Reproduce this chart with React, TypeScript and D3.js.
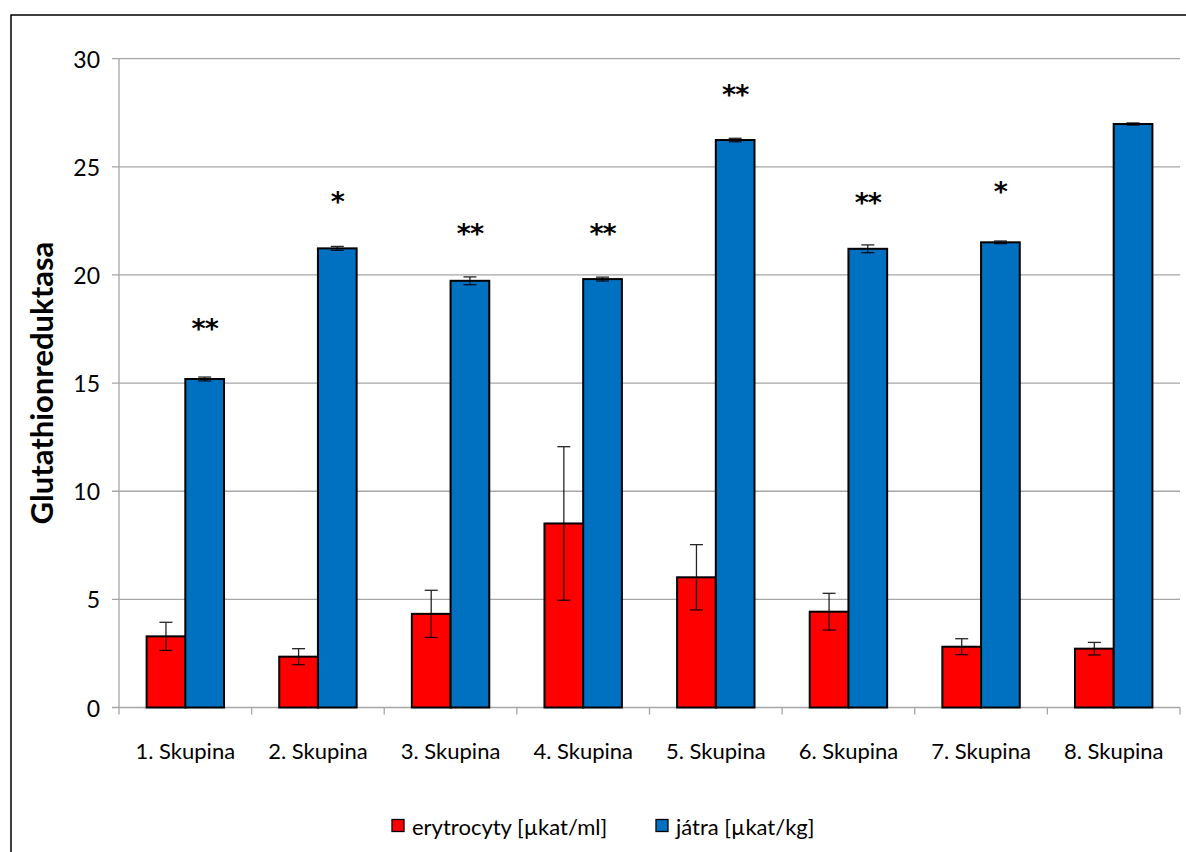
import React from "react";
import * as d3 from "d3";

// Glutathione reductase activity per group
const groups = [
  "1. Skupina",
  "2. Skupina",
  "3. Skupina",
  "4. Skupina",
  "5. Skupina",
  "6. Skupina",
  "7. Skupina",
  "8. Skupina",
];
const erythrocyteValues = [3.29, 2.35, 4.33, 8.51, 6.02, 4.43, 2.81, 2.72];
const erythrocyteErrors = [0.65, 0.37, 1.09, 3.55, 1.51, 0.85, 0.37, 0.29];
const liverValues = [15.19, 21.23, 19.73, 19.81, 26.24, 21.21, 21.51, 26.98];
const liverErrors = [0.09, 0.09, 0.18, 0.09, 0.08, 0.18, 0.06, 0.05];
// significance marks above the liver bars (value = vertical position on the axis)
const significanceMarks = ["**", "*", "**", "**", "**", "**", "*", ""];
const significanceLevels = [17.65, 23.51, 22.04, 22.04, 28.47, 23.46, 23.97, 0];
const yTicks = [0, 5, 10, 15, 20, 25, 30];
const seriesNames = ["erytrocyty [µkat/ml]", "játra [µkat/kg]"];
const seriesColors = ["#FF0000", "#0070C0"];

const WIDTH = 1186;
const HEIGHT = 852;
const FONT = "Lato, 'Open Sans', sans-serif";

export default function App() {
  const x = d3.scaleBand<string>().domain(groups).range([119, 1180]).padding(0);
  const sub = d3
    .scaleBand<number>()
    .domain([0, 1])
    .range([0, x.bandwidth()])
    .paddingInner(0)
    .paddingOuter(0.713);
  const y = d3.scaleLinear().domain([0, 30]).range([707.5, 58.7]);

  const series = [
    { values: erythrocyteValues, errors: erythrocyteErrors },
    { values: liverValues, errors: liverErrors },
  ];

  const plotLeft = x.range()[0];
  const plotRight = x.range()[1];
  const capHalf = 6.5;

  return (
    <svg
      width={WIDTH}
      height={HEIGHT}
      style={{ position: "absolute", left: 0, top: 0, display: "block", background: "#fff" }}
    >
      {/* outer chart frame */}
      <rect x={11} y={15} width={1190} height={860} fill="none" stroke="#000" strokeWidth={1.5} />

      {/* horizontal gridlines and y tick marks */}
      {yTicks.map((t) => (
        <g key={t}>
          <line
            x1={plotLeft - 7}
            x2={plotRight}
            y1={y(t)}
            y2={y(t)}
            stroke="#a6a6a6"
            strokeWidth={1.3}
          />
          <text
            x={100}
            y={y(t)}
            textAnchor="end"
            dominantBaseline="central"
            fontFamily={FONT}
            fontSize={23}
            fill="#000"
          >
            {t}
          </text>
        </g>
      ))}

      {/* y axis line */}
      <line x1={plotLeft} x2={plotLeft} y1={y(30)} y2={y(0)} stroke="#a6a6a6" strokeWidth={1.3} />

      {/* category boundary ticks */}
      {groups.map((g) => (
        <line
          key={g}
          x1={x(g) as number}
          x2={x(g) as number}
          y1={y(0)}
          y2={y(0) + 7}
          stroke="#a6a6a6"
          strokeWidth={1.3}
        />
      ))}
      <line x1={plotRight} x2={plotRight} y1={y(0)} y2={y(0) + 7} stroke="#a6a6a6" strokeWidth={1.3} />

      {/* bars */}
      {series.map((s, si) =>
        groups.map((g, gi) => {
          const bx = (x(g) as number) + (sub(si) as number);
          return (
            <rect
              key={`${si}-${g}`}
              x={bx}
              y={y(s.values[gi])}
              width={sub.bandwidth()}
              height={y(0) - y(s.values[gi])}
              fill={seriesColors[si]}
              stroke="#000"
              strokeWidth={2}
            />
          );
        })
      )}

      {/* error bars */}
      {series.map((s, si) =>
        groups.map((g, gi) => {
          const cx = (x(g) as number) + (sub(si) as number) + sub.bandwidth() / 2;
          const hi = y(s.values[gi] + s.errors[gi]);
          const lo = y(s.values[gi] - s.errors[gi]);
          return (
            <g key={`e-${si}-${g}`} stroke="#000" strokeWidth={1.3} opacity={0.85}>
              <line x1={cx} x2={cx} y1={hi} y2={lo} />
              <line x1={cx - capHalf} x2={cx + capHalf} y1={hi} y2={hi} />
              <line x1={cx - capHalf} x2={cx + capHalf} y1={lo} y2={lo} />
            </g>
          );
        })
      )}

      {/* significance asterisks */}
      {groups.map((g, gi) =>
        significanceMarks[gi] ? (
          <text
            key={`s-${g}`}
            x={(x(g) as number) + (sub(1) as number) + sub.bandwidth() / 2}
            y={y(significanceLevels[gi]) + 12}
            textAnchor="middle"
            fontFamily="'DejaVu Sans', sans-serif"
            fontWeight="bold"
            fontSize={27}
            letterSpacing={-1}
            fill="#000"
          >
            {significanceMarks[gi]}
          </text>
        ) : null
      )}

      {/* category labels */}
      {groups.map((g) => (
        <text
          key={`l-${g}`}
          x={(x(g) as number) + x.bandwidth() / 2}
          y={750}
          textAnchor="middle"
          dominantBaseline="central"
          fontFamily={FONT}
          fontSize={22}
          fill="#000"
        >
          {g}
        </text>
      ))}

      {/* y axis title */}
      <text
        transform={`translate(41, ${y(15)}) rotate(-90)`}
        textAnchor="middle"
        dominantBaseline="central"
        fontFamily={FONT}
        fontWeight="bold"
        fontSize={31}
        fill="#000"
      >
        Glutathionreduktasa
      </text>

      {/* legend */}
      {[
        { x: 392, tx: 412 },
        { x: 656, tx: 676 },
      ].map((p, i) => (
        <g key={`lg-${i}`}>
          <rect
            x={p.x}
            y={819.5}
            width={12}
            height={12}
            fill={seriesColors[i]}
            stroke="#000"
            strokeWidth={1.3}
          />
          <text
            x={p.tx}
            y={826}
            dominantBaseline="central"
            fontFamily={FONT}
            fontSize={22}
            fill="#000"
          >
            {seriesNames[i]}
          </text>
        </g>
      ))}
    </svg>
  );
}
